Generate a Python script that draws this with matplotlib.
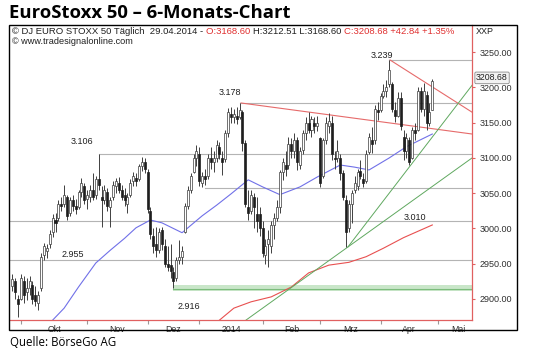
import matplotlib
matplotlib.use("Agg")
import matplotlib.pyplot as plt
import numpy as np
import pandas as pd
from matplotlib.patches import Rectangle

# ---------------- data ----------------
holidays = ["2013-12-24", "2013-12-25", "2013-12-26", "2013-12-31",
            "2014-01-01", "2014-04-18", "2014-04-21"]
dates = pd.bdate_range("2013-09-26", "2014-04-29")
dates = dates[~dates.isin(pd.to_datetime(holidays))]

opens = [2918, 2925, 2900, 2900, 2925, 2910, 2915, 2920, 2905, 2895,
         2915, 2962, 2968, 2978, 2995, 3012, 3015, 3035, 3035, 3045,
         3022, 3040, 3032, 3030, 3052, 3060, 3042, 3045, 3055, 3048,
         3070, 3045, 3040, 3052, 3030, 3045, 3060, 3065, 3055, 3048,
         3035, 3048, 3068, 3072, 3070, 3088, 3095, 3080, 3025, 2990,
         2978, 2970, 2998, 2975, 2950, 2948, 2938, 2930, 2955, 2960,
         2995, 3032, 3055, 3080, 3100, 3105, 3065, 3075, 3075, 3100,
         3095, 3100, 3115, 3100, 3098, 3135, 3162, 3158, 3160, 3158,
         3165, 3121, 3030, 3025, 3045, 3020, 3020, 3000, 2962, 2978,
         2975, 3005, 3015, 3030, 3080, 3090, 3090, 3120, 3110, 3125,
         3090, 3112, 3135, 3150, 3140, 3150, 3145, 3128, 3075, 3125,
         3145, 3150, 3100, 3100, 3100, 3078, 3040, 3000, 3035, 3055,
         3060, 3082, 3070, 3068, 3108, 3125, 3125, 3168, 3168, 3188,
         3195, 3205, 3205, 3168, 3160, 3185, 3130, 3110, 3125, 3100,
         3140, 3140, 3195, 3170, 3190, 3150, 3168.60]
highs = [2935, 2930, 2905, 2935, 2932, 2930, 2932, 2925, 2918, 2912,
         2965, 2980, 2978, 2998, 3020, 3022, 3040, 3045, 3062, 3048,
         3045, 3048, 3042, 3055, 3072, 3065, 3055, 3062, 3079, 3075,
         3106, 3060, 3062, 3058, 3045, 3068, 3072, 3073, 3062, 3058,
         3050, 3070, 3080, 3078, 3092, 3101, 3100, 3085, 3030, 3000,
         3002, 3000, 3002, 2985, 2975, 2978, 2945, 2960, 2984, 2975,
         3036, 3060, 3079, 3105, 3118, 3116, 3080, 3085, 3105, 3115,
         3110, 3126, 3122, 3110, 3140, 3171, 3172, 3170, 3172, 3178,
         3168, 3125, 3055, 3055, 3050, 3045, 3030, 3010, 2985, 2998,
         3010, 3022, 3040, 3083, 3100, 3110, 3130, 3128, 3135, 3130,
         3115, 3140, 3158, 3165, 3160, 3158, 3160, 3130, 3128, 3158,
         3164, 3160, 3110, 3126, 3105, 3083, 3048, 3040, 3055, 3075,
         3085, 3097, 3078, 3111, 3135, 3144, 3175, 3180, 3192, 3205,
         3211, 3239, 3208, 3180, 3194, 3194, 3140, 3135, 3130, 3144,
         3150, 3201, 3200, 3206, 3195, 3178, 3212.51]
lows = [2912, 2900, 2875, 2898, 2895, 2898, 2905, 2893, 2890, 2885,
        2912, 2955, 2958, 2972, 2988, 2995, 3010, 3025, 3030, 3012,
        3018, 3025, 3020, 3028, 3045, 3035, 3028, 3038, 3040, 3042,
        3055, 3002, 3035, 3025, 3002, 3040, 3050, 3050, 3040, 3032,
        3022, 3045, 3060, 3060, 3068, 3082, 3078, 3022, 2985, 2965,
        2960, 2965, 2970, 2945, 2940, 2930, 2916, 2925, 2950, 2950,
        2994, 3028, 3050, 3078, 3088, 3060, 3059, 3062, 3070, 3085,
        3080, 3095, 3098, 3076, 3095, 3130, 3150, 3150, 3148, 3155,
        3110, 3030, 3012, 3020, 3000, 2995, 2990, 2960, 2950, 2945,
        2965, 2985, 3010, 3022, 3069, 3075, 3085, 3100, 3100, 3083,
        3085, 3105, 3126, 3135, 3130, 3135, 3138, 3059, 3072, 3120,
        3135, 3097, 3085, 3095, 3069, 3040, 2974, 2995, 3008, 3050,
        3055, 3070, 3059, 3065, 3105, 3107, 3120, 3154, 3165, 3185,
        3187, 3200, 3165, 3151, 3158, 3140, 3097, 3100, 3090, 3098,
        3125, 3138, 3165, 3160, 3140, 3145, 3168.60]
closes = [2928, 2910, 2893, 2930, 2905, 2915, 2925, 2900, 2897, 2905,
          2960, 2975, 2972, 2992, 3015, 3008, 3035, 3032, 3048, 3018,
          3040, 3032, 3028, 3052, 3065, 3040, 3048, 3055, 3045, 3070,
          3062, 3040, 3055, 3032, 3040, 3062, 3068, 3055, 3045, 3040,
          3045, 3065, 3075, 3068, 3088, 3095, 3085, 3028, 2992, 2975,
          2970, 2995, 2978, 2950, 2945, 2940, 2925, 2955, 2960, 2968,
          3032, 3055, 3075, 3100, 3110, 3068, 3075, 3070, 3100, 3095,
          3100, 3118, 3105, 3095, 3135, 3165, 3158, 3162, 3155, 3168,
          3121, 3035, 3022, 3048, 3030, 3010, 3000, 2965, 2975, 2985,
          3005, 3015, 3030, 3080, 3095, 3085, 3120, 3110, 3125, 3095,
          3110, 3135, 3150, 3140, 3155, 3145, 3150, 3065, 3125, 3150,
          3152, 3105, 3098, 3110, 3078, 3045, 2995, 3035, 3050, 3065,
          3080, 3075, 3065, 3105, 3130, 3120, 3170, 3165, 3188, 3195,
          3200, 3225, 3170, 3160, 3185, 3145, 3110, 3128, 3095, 3140,
          3135, 3195, 3170, 3195, 3150, 3165.84, 3208.68]

# moving averages (trading-day index, value)
ma_blue_idx = [11, 15, 20, 26, 31, 36, 40, 45, 49, 56, 63, 68, 73, 79, 84,
               90, 97, 103, 111, 116, 121, 128, 134, 139, 143]
ma_blue_val = [2870, 2887, 2917, 2951, 2969, 2986, 3001, 3012, 3008, 2994,
               3018, 3033, 3049, 3069, 3059, 3048, 3059, 3073, 3090, 3087,
               3083, 3100, 3116, 3126, 3134]
ma_red_idx = [69, 74, 80, 87, 94, 100, 107, 114, 120, 126, 133, 143]
ma_red_val = [2870, 2887, 2896, 2903, 2917, 2937, 2948, 2952, 2960, 2972,
              2987, 3005]

# trend lines (index, value) start / end
red_trend1 = ([76.5, 156.8], [3178, 3134])
red_trend2 = ([128.3, 156.8], [3239, 3165])
green_trend1 = ([78.2, 156.8], [2870, 3100])
green_trend2 = ([113.7, 156.8], [2974, 3203])

# horizontal support / resistance levels (start index, value)
h_levels = [(128, 3239), (76, 3178), (27, 3106), (64, 3058),
            (-4, 3010), (-4, 2955)]
level_labels = [("3.239", 125.5, 3246), ("3.178", 72.5, 3193),
                ("3.106", 21.2, 3106 + 17), ("2.955", 18, 2963),
                ("2.916", 58.5, 2889), ("3.010", 137, 3016)]
support_band = (53, 2912, 2920)

month_labels = ["Okt", "Nov", "Dez", "2014", "Feb", "Mrz", "Apr", "Mai"]
y_ticks = [2900, 2950, 3000, 3050, 3100, 3150, 3200, 3250]

# ---------------- figure ----------------
W, H = 540, 353
fig = plt.figure(figsize=(W / 100, H / 100), dpi=100)
fig.patch.set_facecolor("white")

ax_l, ax_r, ax_t, ax_b = 10, 472, 25, 320
ax = fig.add_axes([ax_l / W, 1 - ax_b / H, (ax_r - ax_l) / W, (ax_b - ax_t) / H])
x0 = -3
idx = np.arange(len(dates)) + x0
ax.set_xlim(-3.82, 156.8)
ax.set_ylim(2870.2, 3288.6)
ax.set_facecolor("white")

grey = "#b4b4b4"
xmax = ax.get_xlim()[1]
for start, val in h_levels:
    ax.plot([start, xmax], [val, val], color=grey, lw=0.8, zorder=1)

ax.fill_between([support_band[0], xmax], support_band[1], support_band[2],
                color="#c9e6c9", lw=0, zorder=1)
ax.plot([support_band[0], xmax], [support_band[1] + 2.5, support_band[1] + 2.5],
        color="#7cbc7c", lw=0.8, zorder=1)

ax.plot(ma_blue_idx, ma_blue_val, color="#7070e8", lw=0.8, zorder=2)
ax.plot(ma_red_idx, ma_red_val, color="#e85050", lw=0.8, zorder=2)
ax.plot(*red_trend1, color="#e66a6a", lw=0.8, zorder=2)
ax.plot(*red_trend2, color="#e66a6a", lw=0.8, zorder=2)
ax.plot(*green_trend1, color="#5fa85f", lw=0.7, zorder=2)
ax.plot(*green_trend2, color="#5fa85f", lw=0.7, zorder=2)

o = np.array(opens, float); h = np.array(highs, float)
l = np.array(lows, float); c = np.array(closes, float)
ax.vlines(idx, l, h, color="#404040", lw=0.7, zorder=3)
up = c >= o
body_lo = np.minimum(o, c)
body_h = np.maximum(np.abs(c - o), 1.0)
ax.bar(idx[up], body_h[up], bottom=body_lo[up], width=0.7,
       color="white", edgecolor="#3a3a3a", linewidth=0.5, zorder=4)
ax.bar(idx[~up], body_h[~up], bottom=body_lo[~up], width=0.7,
       color="#1e1e1e", edgecolor="#1e1e1e", linewidth=0.5, zorder=4)

lab_font = dict(family=["Liberation Sans", "DejaVu Sans"], fontsize=6.5, color="#202020")
for txt, xi, yv in level_labels:
    ax.text(xi, yv, txt, ha="center", va="center", zorder=5, **lab_font)

# spines
for s in ["top", "left"]:
    ax.spines[s].set_visible(False)
for s in ["right", "bottom"]:
    ax.spines[s].set_color("#e06060")
    ax.spines[s].set_linewidth(0.9)

# x axis: month boundaries as ticks, labels centered in months
idx_list = list(idx)
month_start = [0]
for k in range(1, len(dates)):
    if dates[k].month != dates[k - 1].month and idx_list[k] > 0:
        month_start.append(idx_list[k])
month_start.append(idx_list[-1] + 2)
ax.set_xticks(month_start)
ax.set_xticklabels([])
ax.tick_params(axis="x", length=3, color="#999999", direction="out")
centers = [(month_start[k] + month_start[k + 1]) / 2 for k in range(len(month_start) - 1)]
centers.append(152)
for cx, lab in zip(centers, month_labels):
    ax.text(cx, -0.018, lab, transform=ax.get_xaxis_transform(), ha="center",
            va="top", family=["Liberation Sans", "DejaVu Sans"], fontsize=6.3,
            color="#303030")

# y axis right
ax.yaxis.tick_right()
ax.set_yticks(y_ticks)
ax.set_yticklabels([f"{v:.2f}" for v in y_ticks])
ax.tick_params(axis="y", length=2.5, color="#e06060", pad=3, labelsize=6.5,
               labelcolor="#303030")
for t in ax.get_yticklabels():
    t.set_family(["Liberation Sans", "DejaVu Sans"])

# last price tag
ax.annotate(f"{closes[-1]:.2f}", xy=(1.0, closes[-1]), xycoords=("axes fraction", "data"),
            xytext=(3, 2.5), textcoords="offset points", ha="left", va="center",
            family=["Liberation Sans", "DejaVu Sans"], fontsize=6.3, color="#202020",
            bbox=dict(boxstyle="round,pad=0.15", fc="#f2f2f2", ec="#8a8a8a", lw=0.6),
            zorder=6, annotation_clip=False)

# outer frame
fig.patches.append(Rectangle((9 / W, 1 - 330 / H), (517 - 9) / W, (330 - 25) / H,
                             transform=fig.transFigure, fill=False, ec="black", lw=1.0))

# title and captions
fig.text(9 / W, 1 - 13 / H, "EuroStoxx 50 \u2013 6-Monats-Chart", ha="left", va="center",
         family=["Open Sans", "DejaVu Sans"], fontweight="bold", fontsize=13.3, color="black")
fig.text(10 / W, 1 - 343 / H, "Quelle: B\u00f6rseGo AG", ha="left", va="center",
         family=["Open Sans", "DejaVu Sans"], fontsize=8.3, color="black")

renderer = fig.canvas.get_renderer()
def seq_text(x, y, pieces, size=6.8):
    for s, col in pieces:
        t = fig.text(x / W, 1 - y / H, s, color=col, ha="left", va="center",
                     family=["Liberation Sans", "DejaVu Sans"], fontsize=size)
        x += t.get_window_extent(renderer=renderer).width

red = "#e03030"
seq_text(12, 31, [("\u00a9 DJ EURO STOXX 50 T\u00e4glich  29.04.2014 - ", "#202020"),
                  ("O:3168.60 ", red),
                  ("H:3212.51 L:3168.60 ", "#202020"),
                  ("C:3208.68 +42.84 +1.35%", red)])
seq_text(12, 41, [("\u00a9 www.tradesignalonline.com", "#202020")], size=6.6)
fig.text(476 / W, 1 - 31 / H, "XXP", ha="left", va="center",
         family=["Liberation Sans", "DejaVu Sans"], fontsize=6.5, color="#202020")

fig.savefig("out.png", dpi=100, facecolor="white")
